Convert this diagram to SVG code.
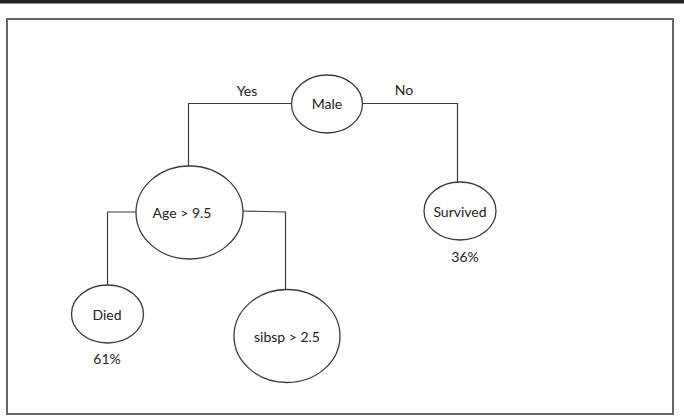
<svg xmlns="http://www.w3.org/2000/svg" width="684" height="418" viewBox="0 0 684 418">
<style>
.node ellipse{fill:#fff;stroke:#3a3a3a;stroke-width:1.3}
text{font-family:Lato,"Liberation Sans",sans-serif;font-size:14px;fill:#222;text-anchor:middle;dominant-baseline:central}
.conn path{fill:none;stroke:#3a3a3a;stroke-width:1.2}
</style>
<rect x="0" y="0" width="684" height="3.5" fill="#222"/>
<rect x="7" y="19" width="666" height="395" fill="#fff" stroke="#666" stroke-width="2"/>
<g id="connectors" class="conn">
<path d="M292 103.5 H188.5 V166"/>
<path d="M362.5 103.5 H457.5 V182.5"/>
<path d="M136 212 H107.5 V285"/>
<path d="M242.5 211 L285.5 212 V289.5"/>
</g>
<g id="label-yes"><text x="247" y="90">Yes</text></g>
<g id="label-no"><text x="404" y="89">No</text></g>
<g id="male" class="node"><ellipse cx="327" cy="104" rx="35.5" ry="29"/><text x="327" y="103">Male</text></g>
<g id="age" class="node"><ellipse cx="189.5" cy="212.5" rx="53.5" ry="46.5"/><text x="182" y="212">Age &gt; 9.5</text></g>
<g id="survived" class="node"><ellipse cx="460" cy="211" rx="36" ry="29"/><text x="460" y="211">Survived</text><text x="465" y="256">36%</text></g>
<g id="died" class="node"><ellipse cx="107.5" cy="314" rx="36" ry="29"/><text x="107" y="314">Died</text><text x="107" y="358">61%</text></g>
<g id="sibsp" class="node"><ellipse cx="287" cy="336" rx="53" ry="46.5"/><text x="287" y="336">sibsp &gt; 2.5</text></g>
</svg>
